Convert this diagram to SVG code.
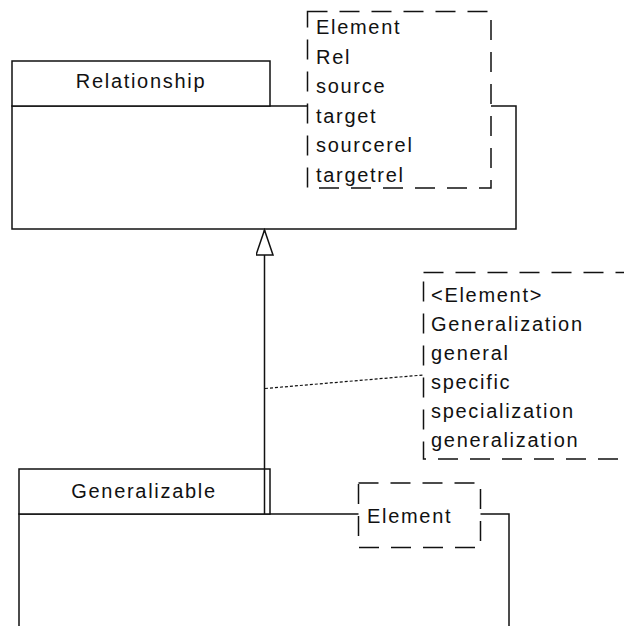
<svg xmlns="http://www.w3.org/2000/svg" width="624" height="626" viewBox="0 0 624 626">
<style>
.box{fill:#fff;stroke:#111;stroke-width:1.5}
.dash{fill:#fff;stroke:#111;stroke-width:1.5;stroke-dasharray:20,12}
.t{font-family:"Liberation Sans",Arial,sans-serif;font-size:20px;letter-spacing:1.7px;fill:#111}
.c{text-anchor:middle}
.ln{fill:none;stroke:#111;stroke-width:1.5}
.dot{fill:none;stroke:#111;stroke-width:1.2;stroke-dasharray:3,2}
</style>
<defs>
<marker id="gen" markerWidth="28" markerHeight="20" refX="26" refY="9" orient="auto" markerUnits="userSpaceOnUse" viewBox="0 0 28 20">
<path d="M26,9 L1,0.5 L1,17.5 Z" fill="#fff" stroke="#111" stroke-width="1.5"/>
</marker>
</defs>
<rect width="624" height="626" fill="#fff"/>
<g id="Relationship">
<rect class="box" x="12" y="106" width="504" height="123"/>
<rect class="box" x="12" y="61" width="258" height="45"/>
<text class="t c" x="141" y="88">Relationship</text>
</g>
<g id="RelationshipNote">
<rect class="dash" x="307.5" y="11.5" width="183.5" height="176.5"/>
<text class="t" x="316" y="34">Element</text>
<text class="t" x="316" y="63.5">Rel</text>
<text class="t" x="316" y="93">source</text>
<text class="t" x="316" y="122.5">target</text>
<text class="t" x="316" y="152">sourcerel</text>
<text class="t" x="316" y="181.5">targetrel</text>
</g>
<g id="Generalizable">
<rect class="box" x="19" y="514" width="490" height="200"/>
<rect class="box" x="19" y="469" width="251" height="45"/>
<text class="t c" x="144" y="498">Generalizable</text>
</g>
<g id="GeneralizableNote">
<rect class="dash" x="358.5" y="483" width="122" height="64.5"/>
<text class="t" x="367" y="523">Element</text>
</g>
<g id="GeneralizationNote">
<rect class="dash" x="423.5" y="272.5" width="260" height="186.5"/>
<text class="t" x="431" y="301.5">&lt;Element&gt;</text>
<text class="t" x="431" y="330.5">Generalization</text>
<text class="t" x="431" y="359.5">general</text>
<text class="t" x="431" y="388.5">specific</text>
<text class="t" x="431" y="417.5">specialization</text>
<text class="t" x="431" y="446.5">generalization</text>
</g>
<g id="connectors">
<line class="ln" x1="264.5" y1="514" x2="264.5" y2="230" marker-end="url(#gen)"/>
<line class="dot" x1="265" y1="388.5" x2="423" y2="375"/>
</g>
</svg>
